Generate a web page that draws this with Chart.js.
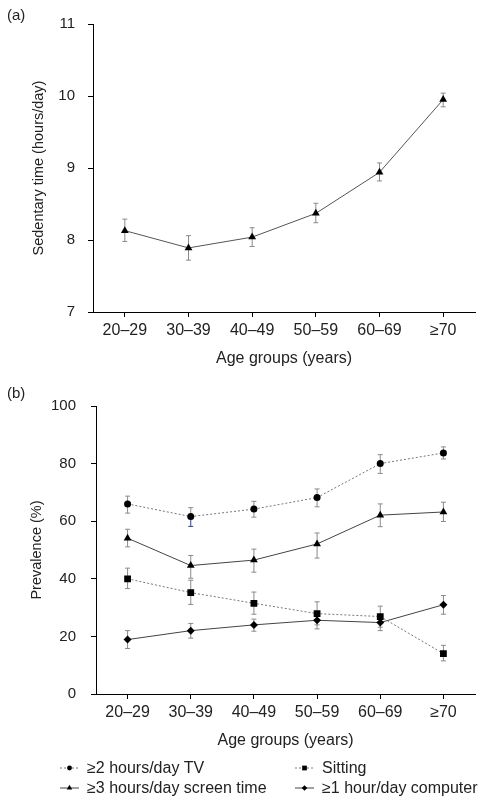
<!DOCTYPE html>
<html>
<head>
<meta charset="utf-8">
<script src="https://cdn.jsdelivr.net/npm/chart.js@4.4.1/dist/chart.umd.min.js"></script>
<style>
  body { margin: 0; background: #fff; width: 485px; height: 803px; position: relative; overflow: hidden; font-family: "Liberation Sans", Arial, sans-serif; }
  .panel { position: absolute; left: 0; width: 485px; }
  .tag { position: absolute; left: 7px; font-size: 15px; color: #222; line-height: 16px; }
</style>
</head>
<body>
<div class="panel" style="top:0;height:370px"><canvas id="chartA"></canvas></div>
<div class="panel" style="top:375px;height:428px"><canvas id="chartB"></canvas></div>
<div class="tag" style="top:7px">(a)</div>
<div class="tag" style="top:385px">(b)</div>
<script>
// age groups shared by both panels
const ageGroups = ['20–29', '30–39', '40–49', '50–59', '60–69', '≥70'];

// panel (a): sedentary time, hours/day
const sedentaryMean = [8.13, 7.89, 8.04, 8.37, 8.94, 9.95];
const sedentaryLow  = [7.98, 7.72, 7.91, 8.24, 8.82, 9.85];
const sedentaryHigh = [8.29, 8.06, 8.17, 8.51, 9.07, 10.04];

// panel (b): prevalence, %
const tvMean = [66.0, 61.6, 64.2, 68.2, 80.0, 83.7];
const tvLow  = [62.8, 58.2, 61.4, 65.0, 76.6, 81.6];
const tvHigh = [68.7, 64.7, 66.9, 71.2, 83.1, 85.8];

const screenMean = [54.1, 44.6, 46.5, 52.1, 62.1, 63.2];
const screenLow  = [51.1, 40.2, 42.3, 47.2, 58.1, 59.9];
const screenHigh = [57.2, 48.1, 50.3, 55.9, 66.0, 66.6];

const sittingMean = [40.0, 35.2, 31.5, 27.9, 26.9, 14.0];
const sittingLow  = [36.6, 31.1, 27.7, 24.0, 23.2, 11.5];
const sittingHigh = [43.7, 39.5, 35.4, 32.0, 30.5, 16.9];

const computerMean = [18.9, 22.0, 24.0, 25.6, 24.8, 31.0];
const computerLow  = [15.8, 19.4, 21.8, 22.6, 22.0, 27.7];
const computerHigh = [22.0, 24.5, 26.0, 28.0, 27.4, 34.2];

const yTicksA = [7, 8, 9, 10, 11];
const yTicksB = [0, 20, 40, 60, 80, 100];

const FONT = '"Liberation Sans", Arial, sans-serif';
const TXT = '#222';

// vertical error bars with small caps, drawn under the markers
const errorBars = {
  id: 'errorBars',
  beforeDatasetsDraw(chart) {
    const ctx = chart.ctx;
    const y = chart.scales.y;
    chart.data.datasets.forEach((ds, i) => {
      const meta = chart.getDatasetMeta(i);
      meta.data.forEach((pt, j) => {
        const x = pt.x;
        const yc = y.getPixelForValue(ds.data[j]);
        const yh = y.getPixelForValue(ds.errHigh[j]);
        const yl = y.getPixelForValue(ds.errLow[j]);
        ctx.save();
        ctx.lineWidth = 1;
        ctx.strokeStyle = '#8a8a8a';
        ctx.beginPath();
        ctx.moveTo(x, yh); ctx.lineTo(x, yc);
        ctx.moveTo(x - 2.5, yh); ctx.lineTo(x + 2.5, yh);
        ctx.stroke();
        ctx.strokeStyle = (ds.errLowColor && ds.errLowColor[j]) || '#8a8a8a';
        ctx.beginPath();
        ctx.moveTo(x, yc); ctx.lineTo(x, yl);
        ctx.moveTo(x - 2.5, yl); ctx.lineTo(x + 2.5, yl);
        ctx.stroke();
        ctx.restore();
      });
    });
  }
};

// two-column legend under panel (b)
const legendSpots = [[60, 393], [60, 413], [295, 393], [295, 413]];
const bottomLegend = {
  id: 'bottomLegend',
  afterDraw(chart) {
    const ctx = chart.ctx;
    chart.data.datasets.forEach((ds, i) => {
      const [lx, ly] = legendSpots[i];
      ctx.save();
      ctx.strokeStyle = ds.borderColor;
      ctx.lineWidth = 1;
      ctx.setLineDash(ds.borderDash || []);
      ctx.beginPath();
      ctx.moveTo(lx, ly); ctx.lineTo(lx + 19, ly);
      ctx.stroke();
      ctx.setLineDash([]);
      ctx.fillStyle = '#000';
      ctx.strokeStyle = '#000';
      Chart.helpers.drawPoint(ctx, { pointStyle: ds.pointStyle, radius: ds.pointRadius * 0.7, borderWidth: 0 }, lx + 9.5, ly);
      ctx.fillStyle = TXT;
      ctx.font = '16px ' + FONT;
      ctx.textBaseline = 'middle';
      ctx.fillText(ds.label, lx + 27, ly + 1);
      ctx.restore();
    });
  }
};

function baseScales(yMin, yMax, step, yTitle, yWidth, yPad, titlePad) {
  return {
    x: {
      type: 'category',
      offset: true,
      afterFit: s => { s.height = 56; },
      grid: { drawOnChartArea: false, drawTicks: true, tickLength: 5, color: '#000' },
      border: { display: true, color: '#000', width: 1 },
      ticks: { color: TXT, font: { family: FONT, size: 16 }, padding: 3.5, maxRotation: 0, autoSkip: false },
      title: { display: true, text: 'Age groups (years)', color: TXT, font: { family: FONT, size: 16 }, padding: { top: 0, bottom: 0 } }
    },
    y: {
      min: yMin, max: yMax,
      afterFit: s => { s.width = yWidth; },
      grid: { drawOnChartArea: false, drawTicks: true, tickLength: 5, color: '#000' },
      border: { display: true, color: '#000', width: 1 },
      ticks: { stepSize: step, color: TXT, font: { family: FONT, size: 15 }, padding: yPad },
      title: { display: true, text: yTitle, color: TXT, font: { family: FONT, size: 14.5 }, padding: { top: titlePad, bottom: 0 } }
    }
  };
}

const common = {
  responsive: true,
  maintainAspectRatio: false,
  animation: false,
  events: [],
  plugins: { legend: { display: false }, tooltip: { enabled: false } }
};

new Chart(document.getElementById('chartA'), {
  type: 'line',
  data: {
    labels: ageGroups,
    datasets: [{
      label: 'Sedentary time',
      data: sedentaryMean,
      errLow: sedentaryLow,
      errHigh: sedentaryHigh,
      borderColor: '#555',
      borderWidth: 1,
      pointStyle: 'triangle',
      pointRadius: 4.5,
      pointBackgroundColor: '#000',
      pointBorderColor: '#000',
      pointBorderWidth: 0,
      tension: 0
    }]
  },
  options: Object.assign({}, common, {
    layout: { padding: { top: 24, right: 10, bottom: 2, left: 0 } },
    scales: baseScales(yTicksA[0], yTicksA[yTicksA.length - 1], 1, 'Sedentary time (hours/day)', 93, 13, 30)
  }),
  plugins: [errorBars]
});

new Chart(document.getElementById('chartB'), {
  type: 'line',
  data: {
    labels: ageGroups,
    datasets: [
      {
        label: '≥2 hours/day TV',
        data: tvMean, errLow: tvLow, errHigh: tvHigh,
        errLowColor: [null, '#2a3bb0', null, null, null, null],
        borderColor: '#777', borderWidth: 1, borderDash: [2, 2],
        pointStyle: 'circle', pointRadius: 3.5
      },
      {
        label: '≥3 hours/day screen time',
        data: screenMean, errLow: screenLow, errHigh: screenHigh,
        borderColor: '#444', borderWidth: 1,
        pointStyle: 'triangle', pointRadius: 4.5
      },
      {
        label: 'Sitting',
        data: sittingMean, errLow: sittingLow, errHigh: sittingHigh,
        borderColor: '#777', borderWidth: 1, borderDash: [2, 2],
        pointStyle: 'rect', pointRadius: 4.8
      },
      {
        label: '≥1 hour/day computer',
        data: computerMean, errLow: computerLow, errHigh: computerHigh,
        borderColor: '#444', borderWidth: 1,
        pointStyle: 'rectRot', pointRadius: 4
      }
    ].map(d => Object.assign(d, { pointBackgroundColor: '#000', pointBorderColor: '#000', pointBorderWidth: 0, tension: 0 }))
  },
  options: Object.assign({}, common, {
    layout: { padding: { top: 31, right: 10, bottom: 53, left: 0 } },
    scales: baseScales(yTicksB[0], yTicksB[yTicksB.length - 1], 20, 'Prevalence (%)', 96, 15, 28)
  }),
  plugins: [errorBars, bottomLegend]
});
</script>
</body>
</html>
